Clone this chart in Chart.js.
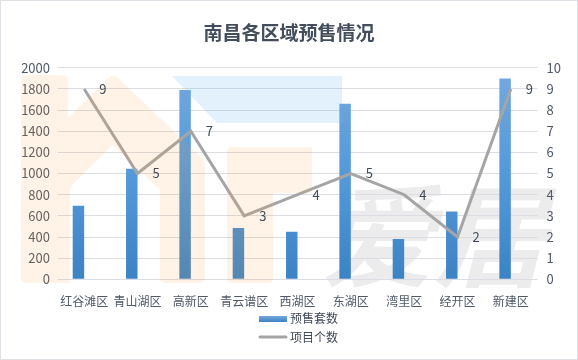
<!DOCTYPE html>
<html>
<head>
<meta charset="utf-8">
<script src="https://cdn.jsdelivr.net/npm/chart.js@4.4.1/dist/chart.umd.min.js"></script>
<style>
  html, body { margin: 0; padding: 0; background: #ffffff; }
  #wrap { width: 578px; height: 360px; }
</style>
</head>
<body>
<div id="wrap"><canvas id="c" width="578" height="360"></canvas></div>
<script>
const titleText = '南昌各区域预售情况';
const categories = ['红谷滩区', '青山湖区', '高新区', '青云谱区', '西湖区', '东湖区', '湾里区', '经开区', '新建区'];
const presaleUnits = [695, 1045, 1790, 485, 450, 1660, 380, 640, 1900];
const projectCounts = [9, 5, 7, 3, 4, 5, 4, 2, 9];
const seriesNames = ['预售套数', '项目个数'];
const leftAxis = { min: 0, max: 2000, step: 200 };
const rightAxis = { min: 0, max: 10, step: 1 };

const FONT = '"Noto Sans CJK SC", "Noto Sans", sans-serif';
const TEXT = '#4f5968';
const GRID = '#dadde3';
const LINE = '#a5a5a5';

function barGradient(ctx) {
  const chart = ctx.chart;
  const a = chart.chartArea;
  if (!a) return '#5b9bd5';
  const g = chart.ctx.createLinearGradient(0, a.top, 0, a.bottom);
  g.addColorStop(0, '#74a9de');
  g.addColorStop(0.5, '#5599d8');
  g.addColorStop(1, '#3c83c4');
  return g;
}

const decorPlugin = {
  id: 'decor',
  beforeDraw(chart) {
    const c = chart.ctx;
    c.save();
    c.fillStyle = '#ffffff';
    c.fillRect(0, 0, chart.width, chart.height);
    // grey text mark (under grid and bars)
    c.fillStyle = '#ececec';
    c.font = 'italic bold 112px ' + FONT;
    c.textBaseline = 'alphabetic';
    c.textAlign = 'left';
    c.beginPath();
    c.rect(300, 150, 278, 140);
    c.clip();
    c.fillText('爱居', 322, 278);
    c.restore();
  },
  afterDatasetsDraw(chart) {
    const c = chart.ctx;
    c.save();
    c.globalAlpha = 0.13;
    c.fillStyle = 'rgb(250,160,60)';
    // house
    c.beginPath();
    c.moveTo(27, 75); c.lineTo(62, 75); c.quadraticCurveTo(68, 75, 68, 81);
    c.lineTo(68, 118); c.lineTo(108, 78); c.quadraticCurveTo(113, 74, 118, 78);
    c.lineTo(200, 156); c.quadraticCurveTo(205, 161, 205, 168);
    c.lineTo(205, 277); c.quadraticCurveTo(205, 283, 199, 283);
    c.lineTo(166, 283); c.quadraticCurveTo(160, 283, 160, 277);
    c.lineTo(160, 190); c.lineTo(113, 145); c.lineTo(72, 185);
    c.quadraticCurveTo(70, 188, 70, 192);
    c.lineTo(70, 283); c.lineTo(27, 283); c.quadraticCurveTo(21, 283, 21, 277);
    c.lineTo(21, 81); c.quadraticCurveTo(21, 75, 27, 75);
    c.closePath();
    c.fill();
    // door-like shape
    c.beginPath();
    c.moveTo(232, 147); c.lineTo(312, 147); c.lineTo(312, 193); c.lineTo(273, 193);
    c.lineTo(273, 278); c.quadraticCurveTo(273, 283, 268, 283);
    c.lineTo(232, 283); c.quadraticCurveTo(227, 283, 227, 278);
    c.lineTo(227, 152); c.quadraticCurveTo(227, 147, 232, 147);
    c.closePath();
    c.fill();
    // blue band
    c.globalAlpha = 0.18;
    c.fillStyle = 'rgb(100,180,240)';
    c.beginPath();
    c.moveTo(172, 76); c.lineTo(342, 76); c.lineTo(342, 123); c.lineTo(217, 123);
    c.closePath();
    c.fill();
    c.restore();

    // value labels on the line
    const meta = chart.getDatasetMeta(0);
    c.save();
    c.font = '13px ' + FONT;
    c.fillStyle = '#404a58';
    c.textAlign = 'left';
    c.textBaseline = 'middle';
    meta.data.forEach((pt, i) => {
      c.fillText(String(chart.data.datasets[0].data[i]), pt.x + 15, pt.y);
    });
    c.restore();
  },
  afterDraw(chart) {
    const c = chart.ctx;
    c.save();
    const x0 = 259, sw = 28;
    const g = c.createLinearGradient(0, 316, 0, 322);
    g.addColorStop(0, '#74a9de'); g.addColorStop(1, '#3c83c4');
    c.fillStyle = g;
    c.fillRect(x0, 316, sw, 6);
    c.strokeStyle = LINE;
    c.lineWidth = 3;
    c.lineCap = 'round';
    c.beginPath();
    c.moveTo(x0 + 1, 337); c.lineTo(x0 + sw - 1, 337);
    c.stroke();
    c.font = '12px ' + FONT;
    c.fillStyle = '#404a58';
    c.textAlign = 'left';
    c.textBaseline = 'middle';
    c.fillText(seriesNames[0], x0 + sw + 3, 318);
    c.fillText(seriesNames[1], x0 + sw + 3, 337);
    c.strokeStyle = '#dcdfe4';
    c.lineWidth = 1;
    c.strokeRect(0.5, 0.5, chart.width - 1, chart.height - 1);
    c.restore();
  }
};

new Chart(document.getElementById('c'), {
  data: {
    labels: categories,
    datasets: [
      {
        type: 'line',
        label: seriesNames[1],
        data: projectCounts,
        yAxisID: 'y2',
        borderColor: LINE,
        borderWidth: 3,
        pointRadius: 0,
        tension: 0,
        order: 0
      },
      {
        type: 'bar',
        label: seriesNames[0],
        data: presaleUnits,
        yAxisID: 'y',
        backgroundColor: barGradient,
        categoryPercentage: 0.43,
        barPercentage: 1,
        order: 1
      },
      {
        type: 'bar',
        label: '',
        data: categories.map(() => null),
        yAxisID: 'y',
        categoryPercentage: 0.43,
        barPercentage: 1,
        order: 2
      }
    ]
  },
  options: {
    responsive: false,
    animation: false,
    devicePixelRatio: 1,
    layout: { padding: 0 },
    plugins: {
      legend: { display: false },
      tooltip: { enabled: false },
      title: {
        display: true,
        text: titleText,
        color: '#434d5c',
        font: { family: FONT, size: 19, weight: 'bold', lineHeight: 1.2 },
        padding: { top: 21, bottom: 24 }
      }
    },
    scales: {
      x: {
        type: 'category',
        grid: { display: false },
        border: { display: false },
        ticks: {
          color: TEXT,
          font: { family: FONT, size: 12 },
          padding: 7,
          maxRotation: 0,
          autoSkip: false
        },
        afterFit(s) { s.height = 80.7; }
      },
      y: {
        position: 'left',
        min: leftAxis.min,
        max: leftAxis.max,
        grid: { color: GRID, lineWidth: 1, drawTicks: false },
        border: { display: false },
        ticks: {
          stepSize: leftAxis.step,
          color: TEXT,
          font: { family: FONT, size: 13 },
          padding: 7.5,
          callback: (v) => String(v)
        },
        afterFit(s) { s.width = 57.5; }
      },
      y2: {
        position: 'right',
        min: rightAxis.min,
        max: rightAxis.max,
        grid: { display: false, drawTicks: false },
        border: { display: false },
        ticks: {
          stepSize: rightAxis.step,
          color: TEXT,
          font: { family: FONT, size: 13 },
          padding: 9,
          callback: (v) => String(v)
        },
        afterFit(s) { s.width = 40.5; }
      }
    }
  },
  plugins: [decorPlugin]
});
</script>
</body>
</html>
